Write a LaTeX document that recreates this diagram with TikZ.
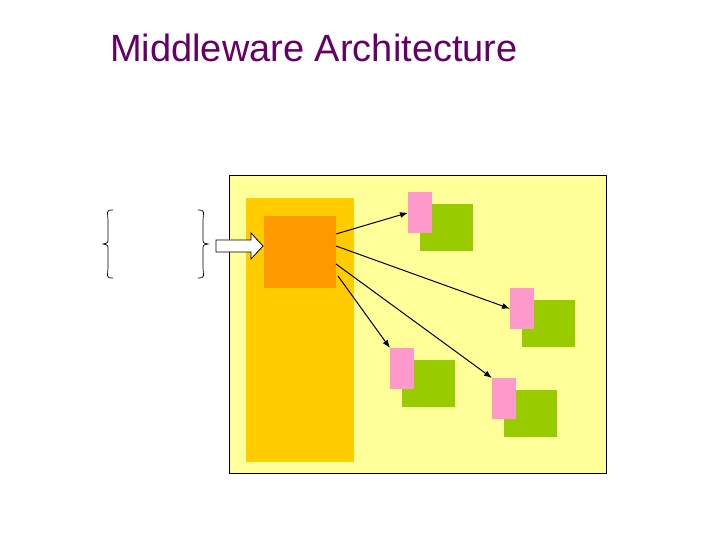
\documentclass[tikz,border=0pt]{standalone}
\usepackage{fontspec}
\setmainfont{Liberation Sans}
\usetikzlibrary{arrows.meta}
\definecolor{ly}{HTML}{FFFF99}
\definecolor{gold}{HTML}{FFCC00}
\definecolor{org}{HTML}{FF9900}
\definecolor{grn}{HTML}{99CC00}
\definecolor{pnk}{HTML}{FF99CC}
\definecolor{ttl}{HTML}{660066}
\begin{document}
\begin{tikzpicture}[x=1pt,y=-1pt,
  conn/.style={-{Latex[length=8pt,width=6pt]},line width=1pt},
  pinkbox/.style={fill=pnk,draw=none},
  greenbox/.style={fill=grn,draw=none}]
\useasboundingbox (0,0) rectangle (720,540);
\node[text=ttl,font=\fontsize{38}{44}\selectfont,anchor=west,inner sep=0] (title) at (110,48) {Middleware Architecture};
\filldraw[fill=ly,draw=black,line width=0.8pt] (229,175) rectangle (606,473);
\fill[gold] (246,198) rectangle (354,462);
\node[fill=org,minimum width=72pt,minimum height=72pt,inner sep=0,anchor=north west] (mw) at (264,216) {};
\draw[fill=white,line width=0.8pt] (216,240) -- (251,240) -- (251,233) -- (263,246) -- (251,259) -- (251,252) -- (216,252) -- cycle;
\draw[line width=0.7pt] (113,210) .. controls (105,210) and (108,212) .. (108,222) -- (108,238) .. controls (108,243) .. (103,244) .. controls (108,245) .. (108,250) -- (108,266) .. controls (108,276) and (105,278) .. (113,278);
\draw[line width=0.7pt] (198,210) .. controls (206,210) and (203,212) .. (203,222) -- (203,238) .. controls (203,243) .. (208,244) .. controls (203,245) .. (203,250) -- (203,266) .. controls (203,276) and (206,278) .. (198,278);
\foreach \n/\x/\y in {a/408/192,b/510/288,c/390/348,d/492/378}{
  \node[greenbox,minimum width=53pt,minimum height=47pt,inner sep=0,anchor=north west] (g\n) at (\x+12,\y+12) {};
  \node[pinkbox,minimum width=24pt,minimum height=41pt,inner sep=0,anchor=north west] (p\n) at (\x,\y) {};
}
\coordinate (s1) at (336,234);
\coordinate (s2) at (336,246);
\coordinate (s3) at (336,264);
\coordinate (s4) at (338,276);
\draw[conn] (s1) -- (pa.west);
\draw[conn] (s2) -- (pb.west);
\draw[conn] (s4) -- (pc.north west);
\draw[conn] (s3) -- (pd.north west);
\end{tikzpicture}
\end{document}
